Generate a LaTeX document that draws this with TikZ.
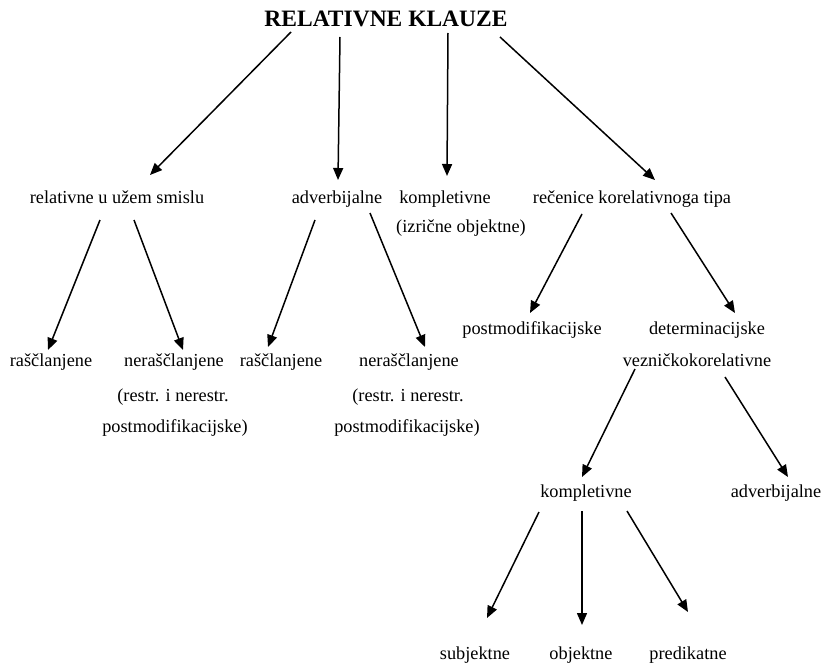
\documentclass[tikz,border=0pt]{standalone}
\usepackage{fontspec}
\setmainfont{Liberation Serif}
\usetikzlibrary{arrows.meta}
\begin{document}
\begin{tikzpicture}[x=1pt,y=-1pt,
  lbl/.style={anchor=base,inner sep=0pt,font=\fontsize{18.3}{22}\selectfont},
  ttl/.style={anchor=base,inner sep=0pt,font=\fontsize{23.5}{28}\selectfont\bfseries},
  arr/.style={-{Triangle[length=12pt,width=10pt]},line width=1.5pt,black}]
\useasboundingbox (0,0) rectangle (823,669);
% texts
\node[ttl] (root) at (386,27) {RELATIVNE KLAUZE};
\node[lbl] (rel) at (117,204) {relativne u užem smislu};
\node[lbl] (adv) at (337,204) {adverbijalne};
\node[lbl] (komp) at (445,204) {kompletivne};
\node[lbl] (kompb) at (461,232) {(izrične objektne)};
\node[lbl] (rec) at (632,204) {rečenice korelativnoga tipa};
\node[lbl] (ras1) at (51,366) {raščlanjene};
\node[lbl] (ner1) at (174,366) {neraščlanjene};
\node[lbl] (ner1b) at (173,401) {(restr. i nerestr.};
\node[lbl] (ner1c) at (175,432) {postmodifikacijske)};
\node[lbl] (ras2) at (281,366) {raščlanjene};
\node[lbl] (ner2) at (409,366) {neraščlanjene};
\node[lbl] (ner2b) at (408,401) {(restr. i nerestr.};
\node[lbl] (ner2c) at (407,432) {postmodifikacijske)};
\node[lbl] (post) at (532,334) {postmodifikacijske};
\node[lbl] (det) at (707,334) {determinacijske};
\node[lbl] (vez) at (697,366) {vezničkokorelativne};
\node[lbl] (komp2) at (586,497) {kompletivne};
\node[lbl] (adv2) at (776,497) {adverbijalne};
\node[lbl] (sub) at (475,659) {subjektne};
\node[lbl] (obj) at (581,659) {objektne};
\node[lbl] (pred) at (688,659) {predikatne};
% arrow end points
\coordinate (a1s) at (291,32);  \coordinate (a1e) at (150,175);
\coordinate (a2s) at (340,37);  \coordinate (a2e) at (338,180);
\coordinate (a3s) at (448,33);  \coordinate (a3e) at (447,176);
\coordinate (a4s) at (500,37);  \coordinate (a4e) at (655,180);
\coordinate (a5s) at (100,220); \coordinate (a5e) at (48,350);
\coordinate (a6s) at (134,220); \coordinate (a6e) at (183,350);
\coordinate (a7s) at (315,220); \coordinate (a7e) at (268,347);
\coordinate (a8s) at (370,213); \coordinate (a8e) at (425,347);
\coordinate (a9s) at (582,214); \coordinate (a9e) at (530,313);
\coordinate (a10s) at (671,213); \coordinate (a10e) at (735,313);
\coordinate (a11s) at (635,369); \coordinate (a11e) at (582,477);
\coordinate (a12s) at (725,377); \coordinate (a12e) at (788,477);
\coordinate (a13s) at (539,512); \coordinate (a13e) at (487,618);
\coordinate (a14s) at (582,511); \coordinate (a14e) at (582,625);
\coordinate (a15s) at (627,511); \coordinate (a15e) at (688,612);
% arrows
\foreach \i in {1,...,15} \draw[arr] (a\i s) -- (a\i e);
\end{tikzpicture}
\end{document}
